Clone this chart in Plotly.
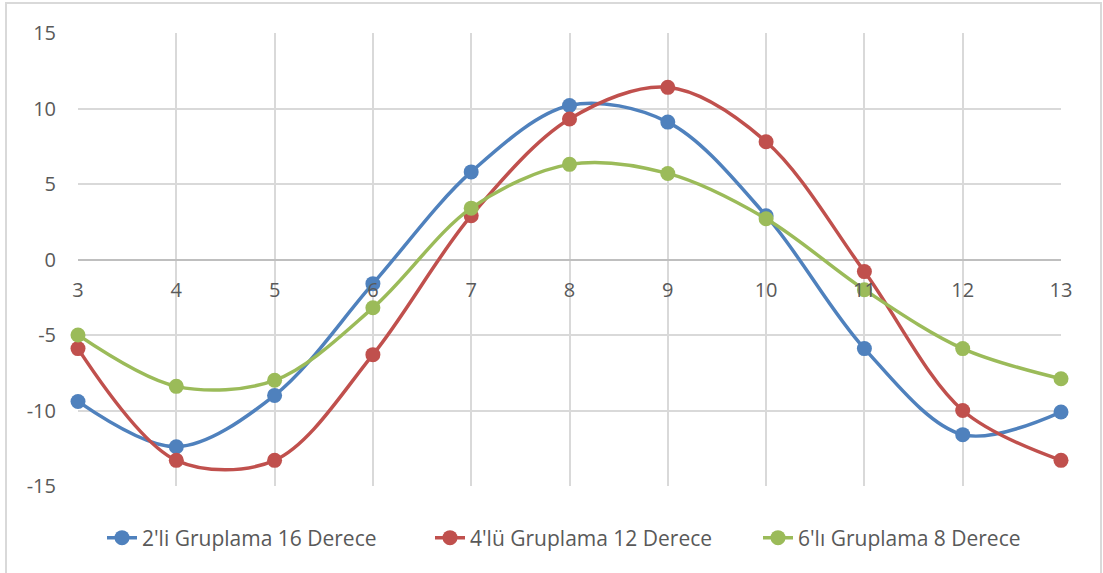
import plotly.graph_objects as go

x_vals = [3, 4, 5, 6, 7, 8, 9, 10, 11, 12, 13]
s1_name = "2'li Gruplama 16 Derece"
s1 = [-9.4, -12.4, -9.0, -1.6, 5.8, 10.2, 9.1, 2.9, -5.9, -11.6, -10.1]
s2_name = "4'lü Gruplama 12 Derece"
s2 = [-5.9, -13.3, -13.3, -6.3, 2.9, 9.3, 11.4, 7.8, -0.8, -10.0, -13.3]
s3_name = "6'lı Gruplama 8 Derece"
s3 = [-5.0, -8.4, -8.0, -3.2, 3.4, 6.3, 5.7, 2.7, -2.0, -5.9, -7.9]
y_ticks = [-15, -10, -5, 0, 5, 10, 15]
y_tick_text = ["-15", "-10", "-5", "0", "5", "10", "15"]

colors = ["#4F81BD", "#C0504D", "#9BBB59"]
W, H = 1103, 573
font = "Open Sans, Liberation Sans, sans-serif"
txt = "#595959"

fig = go.Figure()
for name, ys, c in [(s1_name, s1, colors[0]), (s2_name, s2, colors[1]), (s3_name, s3, colors[2])]:
    fig.add_trace(go.Scatter(
        x=x_vals, y=ys, name=name, mode="lines+markers",
        line=dict(color=c, width=3.5, shape="spline", smoothing=0.95),
        marker=dict(color=c, size=15),
        cliponaxis=False,
    ))

y0, y1 = 1 - 486 / H, 1 - 33 / H
fig.update_layout(
    width=W, height=H,
    margin=dict(l=0, r=0, t=0, b=0, autoexpand=False),
    paper_bgcolor="white", plot_bgcolor="white",
    font=dict(family=font, size=20, color=txt),
    showlegend=True,
    legend=dict(orientation="h", x=102 / W, xanchor="left", y=1 - 538 / H, yanchor="middle",
                font=dict(size=21, color=txt), entrywidth=283),
    xaxis=dict(range=[3, 13], domain=[78 / W, 1061 / W], tickvals=x_vals,
               showgrid=True, gridcolor="#d9d9d9", gridwidth=2,
               zeroline=False, showline=False, anchor="free", automargin=False,
               position=(y0 + y1) / 2, ticks="", ticklabelstandoff=16),
    yaxis=dict(range=[-15, 15], domain=[y0, y1], tickvals=y_ticks, ticktext=y_tick_text,
               showgrid=True, gridcolor="#d9d9d9", gridwidth=2, automargin=False,
               zeroline=True, zerolinecolor="#bfbfbf", zerolinewidth=2,
               showline=False, ticks="", ticklabelstandoff=21),
    shapes=[dict(type="rect", xref="paper", yref="paper",
                 x0=6 / W, x1=1101 / W, y0=-0.01, y1=1 - 3 / H,
                 line=dict(color="#d9d9d9", width=2), fillcolor="rgba(0,0,0,0)", layer="below")],
)
fig.write_html("out.html")
